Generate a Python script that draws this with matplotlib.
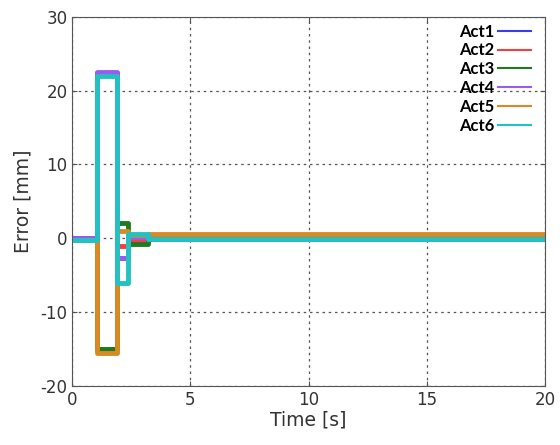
import matplotlib.pyplot as plt

plt.rcParams['axes.unicode_minus'] = False

# change points of the step responses (time in s, error in mm)
t = [0, 1.05, 1.9, 2.35, 3.2, 20]
act1 = [0.0, 22.4, -2.7, 0.2, -0.1, -0.1]
act2 = [-0.3, -15.0, -1.0, -0.3, 0.5, 0.5]
act3 = [-0.3, -15.0, 2.0, -0.8, 0.2, 0.2]
act4 = [0.0, 22.6, -2.7, 0.2, -0.1, -0.1]
act5 = [-0.3, -15.5, 1.0, 0.5, 0.6, 0.6]
act6 = [-0.3, 22.0, -6.0, 0.6, -0.1, -0.1]

names = ['Act1', 'Act2', 'Act3', 'Act4', 'Act5', 'Act6']
series = [act1, act2, act3, act4, act5, act6]
colors = ['#3b3bf0', '#f04040', '#1f7a1f', '#9a5cf0', '#d98a25', '#22c2c2']

fig = plt.figure(figsize=(5.6, 4.45), dpi=100)
ax = fig.add_axes([0.129, 0.133, 0.844, 0.829])

for name, y, c in zip(names, series, colors):
    ax.plot(t, y, drawstyle='steps-post', color=c, lw=3.5, label=name)

ax.set_xlim(0, 20)
ax.set_ylim(-20, 30)
ax.set_xticks([0, 5, 10, 15, 20])
ax.set_yticks([-20, -10, 0, 10, 20, 30])
ax.grid(True, linestyle=(0, (2, 3)), color='#555555', lw=0.9)
ax.tick_params(direction='in', top=True, right=True, labelsize=12,
               labelcolor='#333333', color='#555555')
for s in ax.spines.values():
    s.set_color('#555555')
ax.set_xlabel('Time [s]', fontsize=13.5, color='#333333', labelpad=1)
ax.set_ylabel('Error [mm]', fontsize=13.5, color='#333333', labelpad=6)

# legend: label first, thin sample line
handles = [plt.Line2D([], [], color=c, lw=1.5) for c in colors]
leg = ax.legend(handles, names, loc='upper right', frameon=False,
                markerfirst=False, handlelength=2.0, handletextpad=0.2,
                labelspacing=0.17, borderaxespad=0.0,
                bbox_to_anchor=(0.985, 1.0),
                prop={'family': 'Lato', 'weight': 'bold', 'size': 12})

fig.savefig('out.png', dpi=100)
